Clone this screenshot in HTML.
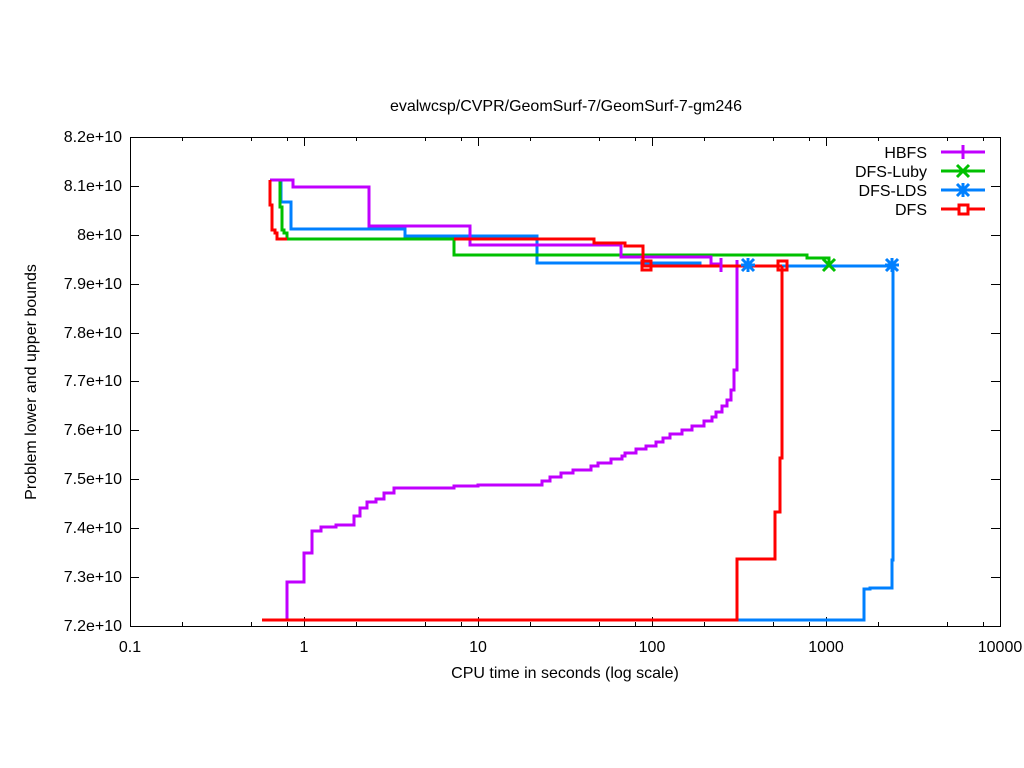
<!DOCTYPE html>
<html><head><style>body{margin:0;background:#fff}svg{display:block}text{font-family:"Liberation Sans",sans-serif;font-size:16px;fill:#000}</style></head><body>
<svg width="1024" height="768" viewBox="0 0 1024 768">
<text x="566" y="111" text-anchor="middle">evalwcsp/CVPR/GeomSurf-7/GeomSurf-7-gm246</text>
<g stroke="#000" stroke-width="1" fill="none">
<rect x="130.5" y="137.5" width="870" height="489"/>
<path d="M130 186.5h9M130 235.5h9M130 284.5h9M130 333.5h9M130 381.5h9M130 430.5h9M130 479.5h9M130 528.5h9M130 577.5h9
M1000 186.5h-9M1000 235.5h-9M1000 284.5h-9M1000 333.5h-9M1000 381.5h-9M1000 430.5h-9M1000 479.5h-9M1000 528.5h-9M1000 577.5h-9
M304.5 626v-9M478.5 626v-9M652.5 626v-9M826.5 626v-9M304.5 137v9M478.5 137v9M652.5 137v9M826.5 137v9
M182.5 626v-4M251.5 626v-4M287.5 626v-4M356.5 626v-4M425.5 626v-4M461.5 626v-4M530.5 626v-4M599.5 626v-4M635.5 626v-4M704.5 626v-4M773.5 626v-4M809.5 626v-4M878.5 626v-4M947.5 626v-4M983.5 626v-4
M182.5 137v4M251.5 137v4M287.5 137v4M356.5 137v4M425.5 137v4M461.5 137v4M530.5 137v4M599.5 137v4M635.5 137v4M704.5 137v4M773.5 137v4M809.5 137v4M878.5 137v4M947.5 137v4M983.5 137v4"/>
</g>
<g text-anchor="end">
<text x="122" y="142">8.2e+10</text><text x="122" y="191">8.1e+10</text><text x="122" y="240">8e+10</text><text x="122" y="289">7.9e+10</text><text x="122" y="338">7.8e+10</text><text x="122" y="386">7.7e+10</text><text x="122" y="435">7.6e+10</text><text x="122" y="484">7.5e+10</text><text x="122" y="533">7.4e+10</text><text x="122" y="582">7.3e+10</text><text x="122" y="631">7.2e+10</text>
</g>
<g text-anchor="middle">
<text x="130" y="652">0.1</text><text x="304" y="652">1</text><text x="478" y="652">10</text><text x="652" y="652">100</text><text x="826" y="652">1000</text><text x="1000" y="652">10000</text>
<text x="565" y="678">CPU time in seconds (log scale)</text>
<text transform="translate(36,382) rotate(-90)">Problem lower and upper bounds</text>
</g>
<g fill="none" stroke-width="3" stroke-linejoin="miter">
<path stroke="#0080ff" d="M270 180H281V202H291V229H405V236H537V263H700V266H892M737 620H864V589H870V588H892V560H893V530L893 266"/>
<path stroke="#00c000" d="M280 180V207H282V230H284V233H287V239H454V255H807V258H829V266"/>
<path stroke="#c000ff" d="M270 180H293V187H369V226H470V245H621V257H711V264H721M287 620V582H304V553H312V531H321V527H336V525H354V516H360V508H367V502H376V499H384V493H394V488H454V486H478V485H542V481H550V477H561V473H573V470H591V466H598V463H611V459H622V456H625V453H636V449H646V446H656V442H663V438H670V434H682V430H692V426H704V421H712V417H716V412H722V406H727V400H731V390H734V370H737V325V260"/>
<path stroke="#ff0000" d="M270 180V205H272V230H275V233H277V239H287M454 239H594V243H625V246H643V266H782M262 620H737V559H775V512H780V458H782V266"/>
</g>
<g stroke-width="3" fill="none">
<path stroke="#c000ff" d="M721 258v14"/>
<path stroke="#0080ff" d="M742 259l12 12M754 259l-12 12M748 258v14M741 265h14M886 259l12 12M898 259l-12 12M892 258v14M885 265h14"/>
<path stroke="#00c000" d="M823 259l12 12M835 259l-12 12"/>
<rect stroke="#ff0000" x="642" y="261" width="9" height="9"/>
<rect stroke="#ff0000" x="778" y="261" width="9" height="9"/>
</g>
<g text-anchor="end">
<text x="927" y="158">HBFS</text><text x="927" y="177">DFS-Luby</text><text x="927" y="196">DFS-LDS</text><text x="927" y="215">DFS</text>
</g>
<g stroke-width="3" fill="none">
<path stroke="#c000ff" d="M941 152h44M963 145v14"/>
<path stroke="#00c000" d="M941 171h44M957 165l12 12M969 165l-12 12"/>
<path stroke="#0080ff" d="M941 190h44M957 184l12 12M969 184l-12 12M963 183v14"/>
<path stroke="#ff0000" d="M941 209h44"/><rect stroke="#ff0000" x="959" y="205" width="9" height="9" fill="#fff"/>
</g>
</svg>
</body></html>
